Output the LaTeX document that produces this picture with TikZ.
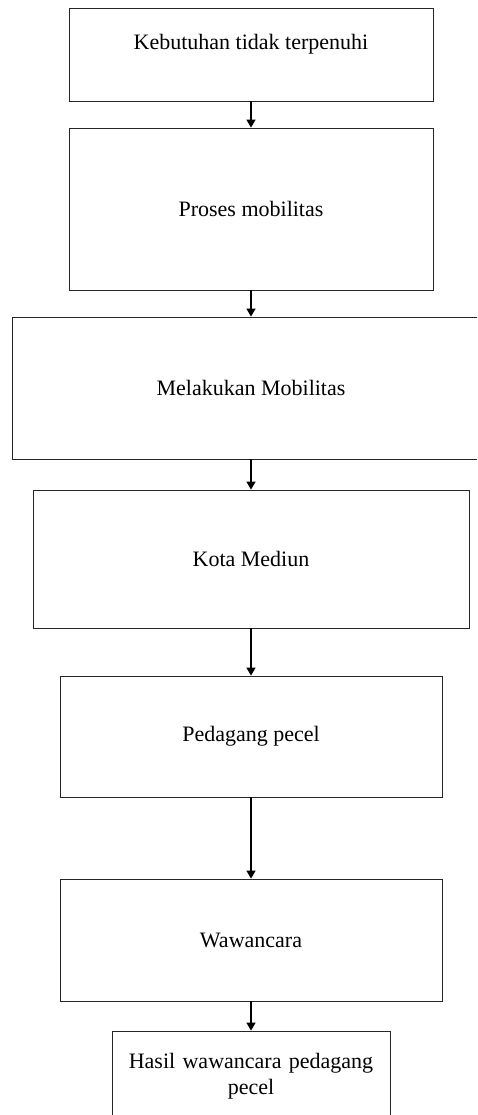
\documentclass[tikz,border=0pt]{standalone}
\usepackage{fontspec}
\setmainfont{Liberation Serif}
\usetikzlibrary{arrows.meta}

\tikzset{
  flowbox/.style={draw=black!85, line width=0.8pt, rectangle, align=center,
    font=\fontsize{22}{26}\selectfont, inner sep=2pt},
  flowarrow/.style={-{Triangle[width=9pt,length=8pt]}, line width=1.4pt}
}

\begin{document}
\begin{tikzpicture}[x=1pt,y=-1pt]

% page area
\clip (0,0) rectangle (477,1115);

% the boxes
\node[flowbox, minimum width=364pt, minimum height=93pt, text depth=26pt] (kebutuhan) at (251,54.5) {Kebutuhan tidak terpenuhi};
\node[flowbox, minimum width=364pt, minimum height=162pt] (proses) at (251,209) {Proses mobilitas};
\node[flowbox, minimum width=478pt, minimum height=142pt] (melakukan) at (251,388) {Melakukan Mobilitas};
\node[flowbox, minimum width=436pt, minimum height=138pt] (kota) at (251,559) {Kota Mediun};
\node[flowbox, minimum width=382pt, minimum height=121pt] (pedagang) at (251,736.5) {Pedagang pecel};
\node[flowbox, minimum width=382pt, minimum height=122pt] (wawancara) at (251,940) {Wawancara};
\node[flowbox, minimum width=278pt, minimum height=90pt, text width=260pt] (hasil) at (251,1076) {Hasil wawancara pedagang\\pecel};

% the arrows between the boxes
\draw[flowarrow] (kebutuhan.south) -- (proses.north);
\draw[flowarrow] (proses.south) -- (melakukan.north);
\draw[flowarrow] (melakukan.south) -- (kota.north);
\draw[flowarrow] (kota.south) -- (pedagang.north);
\draw[flowarrow] (pedagang.south) -- (wawancara.north);
\draw[flowarrow] (wawancara.south) -- (hasil.north);

\end{tikzpicture}
\end{document}
